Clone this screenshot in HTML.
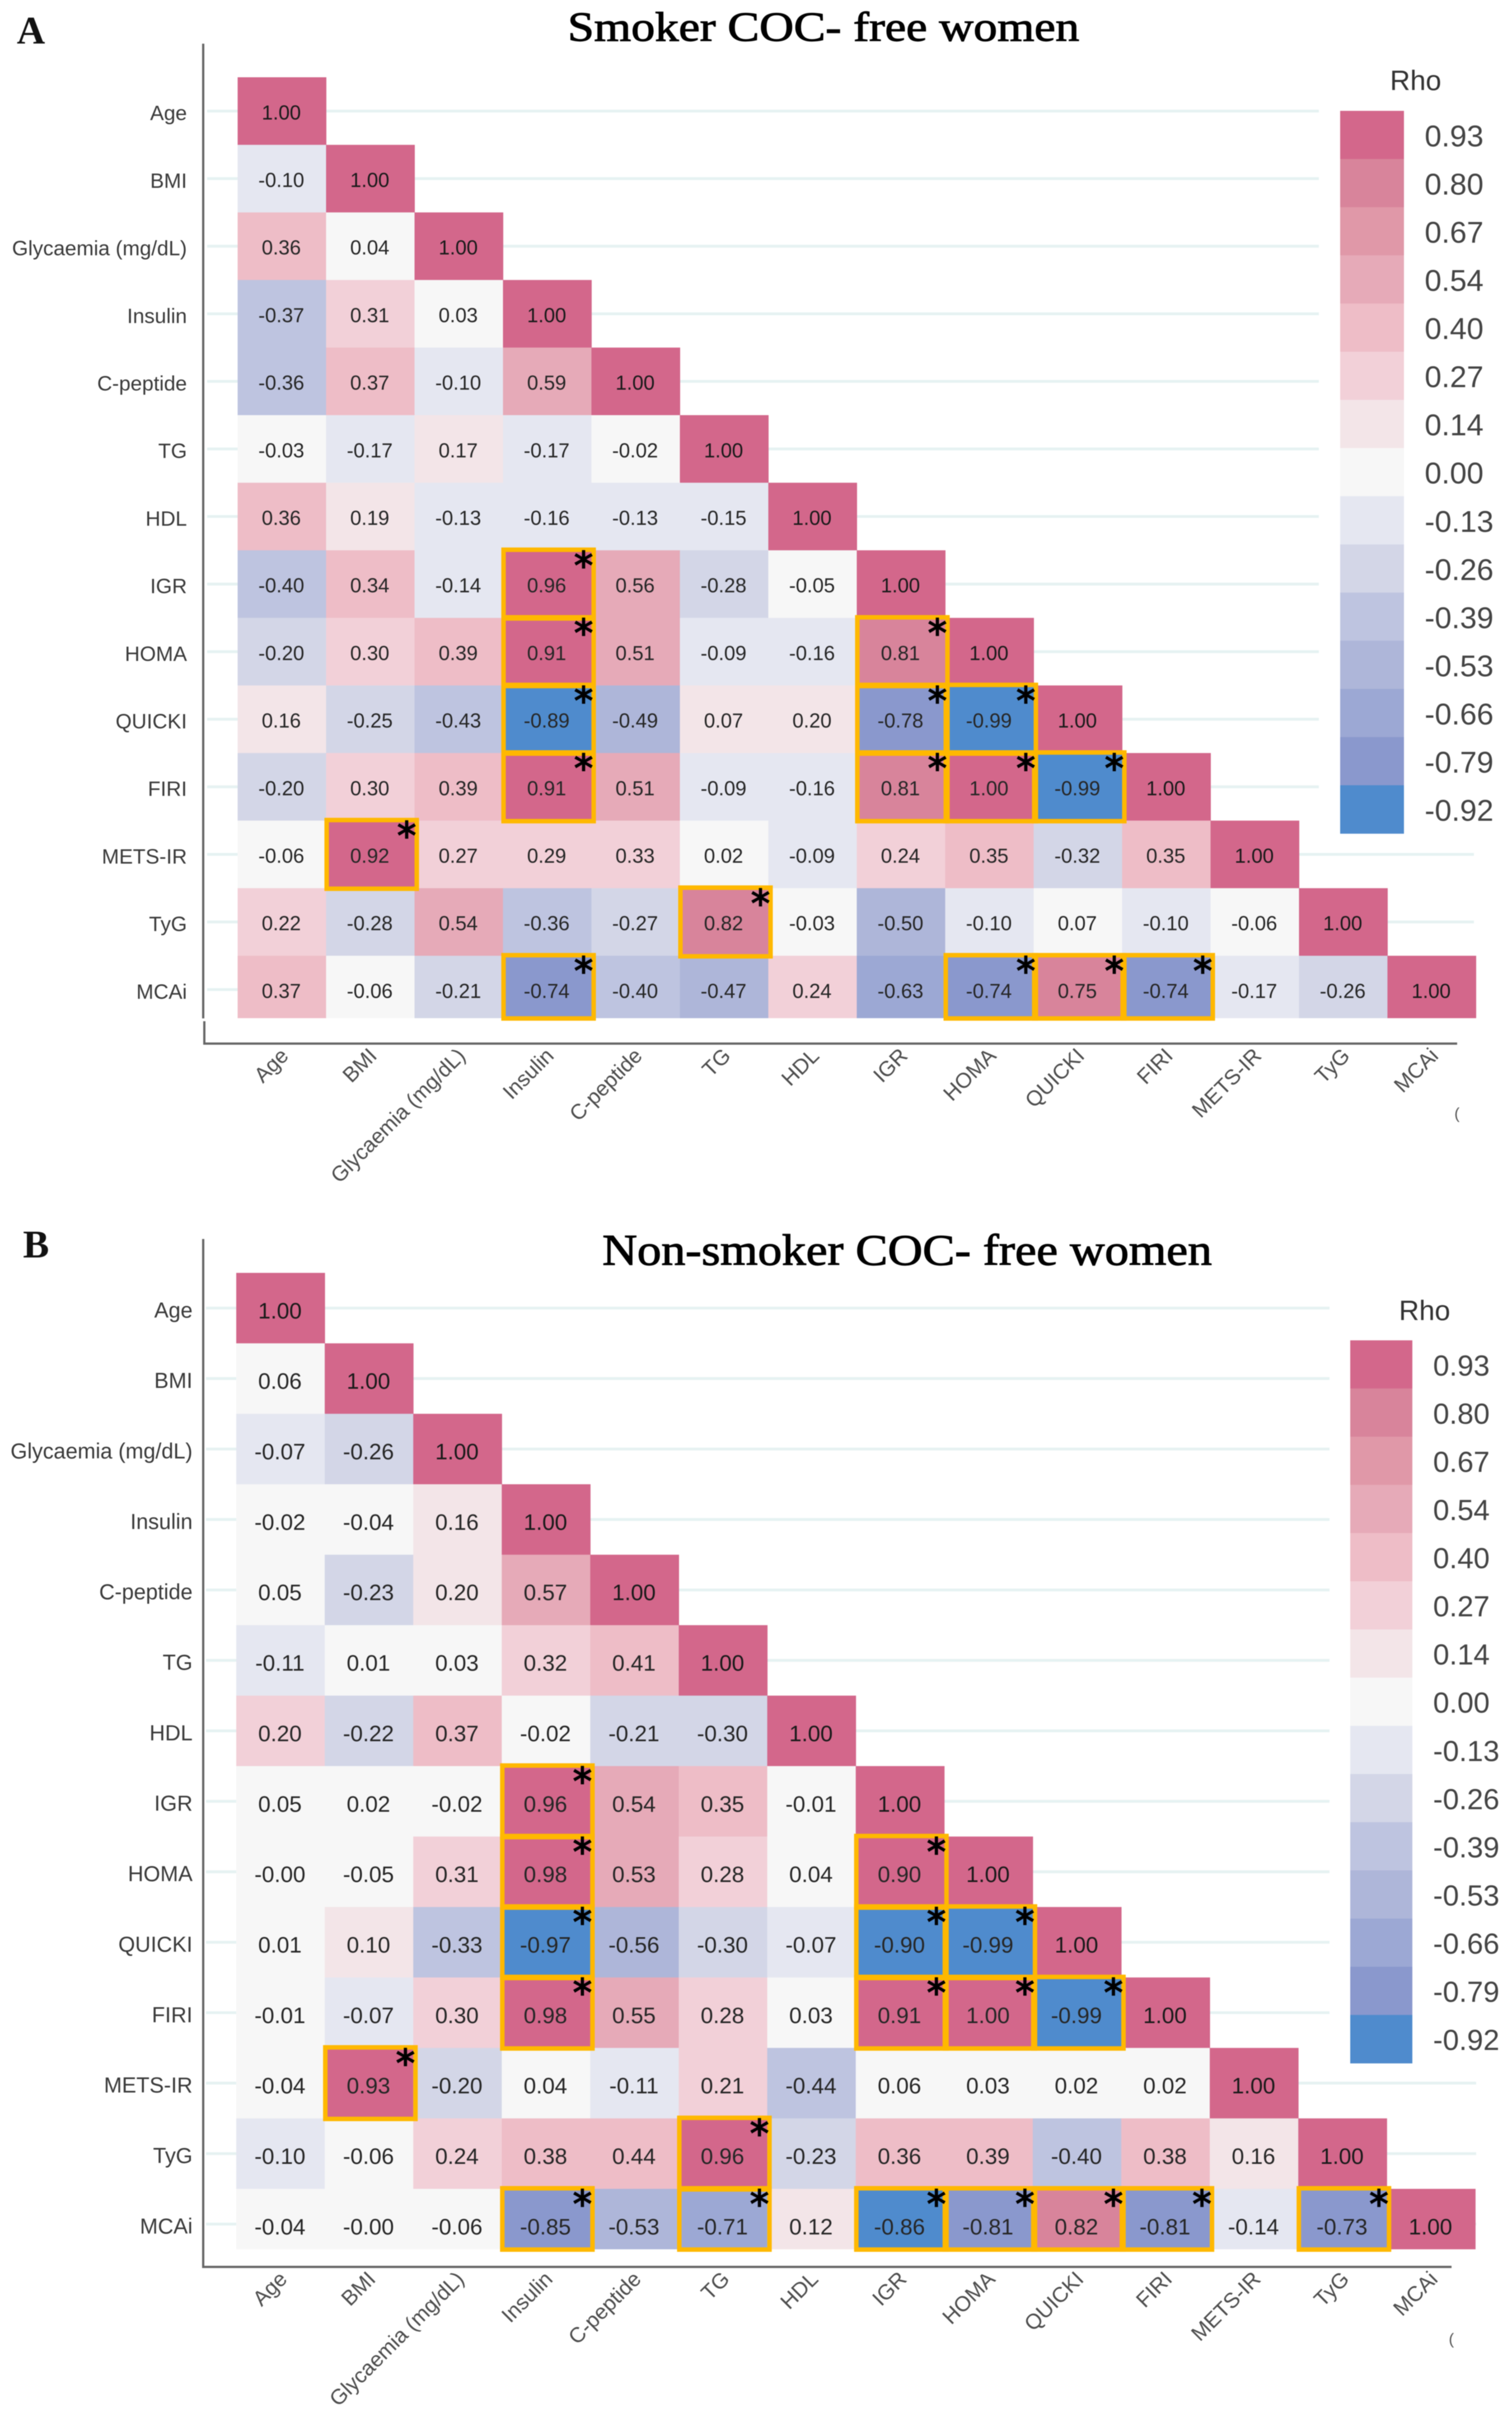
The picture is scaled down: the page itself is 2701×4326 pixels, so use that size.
<!DOCTYPE html>
<html lang="en">
<head>
<meta charset="utf-8">
<title>Correlation heatmaps: smoker and non-smoker COC-free women</title>
<style>
  html, body { margin: 0; padding: 0; background: #fff; }
  svg { display: block; filter: blur(0.9px); }
  .title { font-family: "Liberation Serif", serif; fill: #000; stroke: #000; stroke-width: 1.4px; }
  .panel-letter { font-family: "Liberation Serif", serif; font-weight: bold; fill: #111; }
  text { font-family: "Liberation Sans", sans-serif; }
</style>
</head>
<body>
<svg id="figure" xmlns="http://www.w3.org/2000/svg" width="2701" height="4326" viewBox="0 0 2701 4326">
  <rect x="0" y="0" width="2701" height="4326" fill="#ffffff"/>

  <text class="panel-letter" x="30" y="78" font-size="70">A</text>
  <text class="title" x="1014" y="73" font-size="74" textLength="914" lengthAdjust="spacingAndGlyphs">Smoker COC- free women</text>
  <g id="panel-a"></g>
  <rect x="361" y="78" width="4" height="1741" fill="#666666"/>
  <rect x="363" y="1824" width="4" height="42" fill="#666666"/>
  <rect x="365" y="1862" width="2238" height="4" fill="#666666"/>
  <text x="2598" y="1998" font-size="28" fill="#555555">(</text>

  <text class="panel-letter" x="41" y="2246" font-size="70" font-weight="normal">B</text>
  <text class="title" x="1076" y="2259" font-size="78" textLength="1089" lengthAdjust="spacingAndGlyphs">Non-smoker COC- free women</text>
  <g id="panel-b"></g>
  <rect x="361" y="2213" width="4" height="1838" fill="#666666"/>
  <rect x="361" y="4047" width="2232" height="4" fill="#666666"/>
  <text x="2588" y="4187" font-size="28" fill="#555555">(</text>
</svg>

<script>
const categories = ["Age","BMI","Glycaemia (mg/dL)","Insulin","C-peptide","TG","HDL","IGR","HOMA","QUICKI","FIRI","METS-IR","TyG","MCAi"];

const rhoSmoker = [
  [1.00],
  [-0.10,1.00],
  [0.36,0.04,1.00],
  [-0.37,0.31,0.03,1.00],
  [-0.36,0.37,-0.10,0.59,1.00],
  [-0.03,-0.17,0.17,-0.17,-0.02,1.00],
  [0.36,0.19,-0.13,-0.16,-0.13,-0.15,1.00],
  [-0.40,0.34,-0.14,0.96,0.56,-0.28,-0.05,1.00],
  [-0.20,0.30,0.39,0.91,0.51,-0.09,-0.16,0.81,1.00],
  [0.16,-0.25,-0.43,-0.89,-0.49,0.07,0.197,-0.78,-0.99,1.00],
  [-0.20,0.30,0.39,0.91,0.51,-0.09,-0.16,0.81,1.00,-0.99,1.00],
  [-0.06,0.92,0.27,0.29,0.33,0.02,-0.09,0.24,0.35,-0.32,0.35,1.00],
  [0.22,-0.28,0.54,-0.36,-0.27,0.82,-0.03,-0.50,-0.10,0.068,-0.10,-0.06,1.00],
  [0.37,-0.06,-0.21,-0.74,-0.40,-0.47,0.24,-0.63,-0.74,0.75,-0.74,-0.17,-0.26,1.00]
];

const rhoNonSmoker = [
  [1.00],
  [0.06,1.00],
  [-0.07,-0.26,1.00],
  [-0.02,-0.04,0.16,1.00],
  [0.05,-0.23,0.197,0.57,1.00],
  [-0.11,0.01,0.03,0.32,0.41,1.00],
  [0.20,-0.22,0.37,-0.02,-0.21,-0.30,1.00],
  [0.05,0.02,-0.02,0.96,0.54,0.35,-0.01,1.00],
  [-0.001,-0.05,0.31,0.98,0.53,0.28,0.04,0.90,1.00],
  [0.01,0.10,-0.33,-0.97,-0.56,-0.30,-0.07,-0.90,-0.99,1.00],
  [-0.01,-0.07,0.30,0.98,0.55,0.28,0.03,0.91,1.00,-0.99,1.00],
  [-0.04,0.93,-0.20,0.04,-0.11,0.21,-0.44,0.06,0.03,0.02,0.02,1.00],
  [-0.10,-0.06,0.24,0.38,0.44,0.96,-0.23,0.36,0.39,-0.40,0.38,0.16,1.00],
  [-0.04,-0.001,-0.06,-0.85,-0.53,-0.71,0.12,-0.86,-0.81,0.82,-0.81,-0.14,-0.73,1.00]
];

const legendTicks = [0.93,0.80,0.67,0.54,0.40,0.27,0.14,0.00,-0.13,-0.26,-0.39,-0.53,-0.66,-0.79,-0.92];
const binEdges = [0.865,0.735,0.605,0.47,0.335,0.2,0.07,-0.065,-0.195,-0.325,-0.46,-0.595,-0.725,-0.855];
const binColors = ["#d3678b","#d8849b","#e098a8","#e6aab8","#eebdc7","#f2d0d8","#f3e5e8","#f7f7f7","#e5e7f1","#d3d6e7","#bec4e0","#aeb6d9","#9ca8d4","#8a98cd","#4f8bcd"];
const significanceCutoff = 0.7;

const SVG_NS = "http://www.w3.org/2000/svg";

function make(parent, tag, attrs, content) {
  const node = document.createElementNS(SVG_NS, tag);
  for (const key in attrs) node.setAttribute(key, attrs[key]);
  if (content !== undefined) node.textContent = content;
  parent.appendChild(node);
  return node;
}

function colorFor(value) {
  for (let i = 0; i < binEdges.length; i++) {
    if (value >= binEdges[i]) return binColors[i];
  }
  return binColors[binColors.length - 1];
}

function drawPanel(root, matrix, g) {
  const xScale = (col) => g.x0 + col * g.colW;
  const yScale = (row) => g.y0 + row * g.rowH;
  const lastRow = matrix.length - 1;
  const visibleH = (row) => (row === lastRow ? g.lastH : g.rowH);

  categories.forEach((name, row) => {
    const cy = yScale(row) + g.rowH / 2;
    const gridEnd = row >= 11 ? g.gridEndLow : g.gridEnd;
    const line = make(root, "line", { x1: g.gridStart, x2: gridEnd, y1: cy, y2: cy, stroke: "#e6f2f2", "stroke-width": 5 });
    
    

    const yLabel = make(root, "text", { x: g.yLabelEnd, y: cy + 0.36 * g.axisFont + 3, "text-anchor": "end", "font-size": g.axisFont, fill: "#3a3a3a" }, name);
    
    

    const lx = xScale(row) + g.colW / 2 + 14;
    const xLabel = make(root, "text", { x: 0, y: 0, transform: "translate(" + lx + "," + g.xLabelY + ") rotate(-45)", "text-anchor": "end", "font-size": g.xFont, fill: "#4d4d4d" }, name);
    
    
  });

  matrix.forEach((rowValues, row) => {
    rowValues.forEach((value, col) => {
      const cell = make(root, "rect", { x: xScale(col), y: yScale(row), width: g.colW + 0.5, height: visibleH(row) + 0.5, fill: colorFor(value) });
      
      
    });
  });

  matrix.forEach((rowValues, row) => {
    rowValues.forEach((value, col) => {
      const text = make(root, "text", { x: xScale(col) + g.colW / 2 - 1, y: yScale(row) + g.rowH / 2 + 0.36 * g.cellFont + g.cellDy, "text-anchor": "middle", "font-size": g.cellFont, fill: row === col ? "#1a1a1a" : "#262626" }, value.toFixed(2));
      
      
    });
  });

  matrix.forEach((rowValues, row) => {
    rowValues.forEach((value, col) => {
      if (row === col || Math.abs(value) < significanceCutoff) return;
      const box = make(root, "rect", { x: xScale(col) + 1, y: yScale(row) - 1, width: g.colW + 3, height: visibleH(row) + 2, fill: "none", stroke: "#ffb800", "stroke-width": 8 });
      
      
    });
  });

  matrix.forEach((rowValues, row) => {
    rowValues.forEach((value, col) => {
      if (row === col || Math.abs(value) < significanceCutoff) return;
      const star = make(root, "text", { x: xScale(col) + g.colW - 14, y: yScale(row) + 16 + 0.515 * 68, "text-anchor": "middle", "font-size": 68, fill: "#000000", stroke: "#000000", "stroke-width": 2, style: "font-family:'DejaVu Sans',sans-serif" }, "*");
      
      
    });
  });

  const swatchH = g.legendH / legendTicks.length;
  const legendTitle = make(root, "text", { x: g.legendTitleX, y: g.legendTitleY, "font-size": 50, fill: "#333333" }, "Rho");
  
  

  legendTicks.forEach((tick, i) => {
    const swatch = make(root, "rect", { x: g.legendX, y: g.legendY + i * swatchH, width: g.legendW, height: swatchH + 0.5, fill: colorFor(tick) });
    
    

    const label = make(root, "text", { x: g.legendLabelX, y: g.legendY + (i + 0.5) * swatchH + 1 + 0.36 * g.legendFont, "font-size": g.legendFont, fill: "#444444" }, tick.toFixed(2));
    
    
  });
}

drawPanel(document.getElementById("panel-a"), rhoSmoker, {
  x0: 424.5, y0: 138, colW: 158, rowH: 120.7, lastH: 111,
  gridStart: 370, gridEnd: 2356, gridEndLow: 2633,
  yLabelEnd: 334, axisFont: 37, xFont: 38, xLabelY: 1888,
  cellFont: 36, cellDy: 2,
  legendX: 2394, legendY: 198, legendW: 114, legendH: 1290.6,
  legendLabelX: 2545, legendFont: 54, legendTitleX: 2483, legendTitleY: 161
});

drawPanel(document.getElementById("panel-b"), rhoNonSmoker, {
  x0: 422, y0: 2273.5, colW: 158.1, rowH: 125.85, lastH: 107.5,
  gridStart: 368, gridEnd: 2375, gridEndLow: 2637,
  yLabelEnd: 344, axisFont: 38.5, xFont: 38, xLabelY: 4073,
  cellFont: 40, cellDy: 4,
  legendX: 2412, legendY: 2394, legendW: 111, legendH: 1291,
  legendLabelX: 2560, legendFont: 52, legendTitleX: 2499, legendTitleY: 2358
});
</script>
</body>
</html>
